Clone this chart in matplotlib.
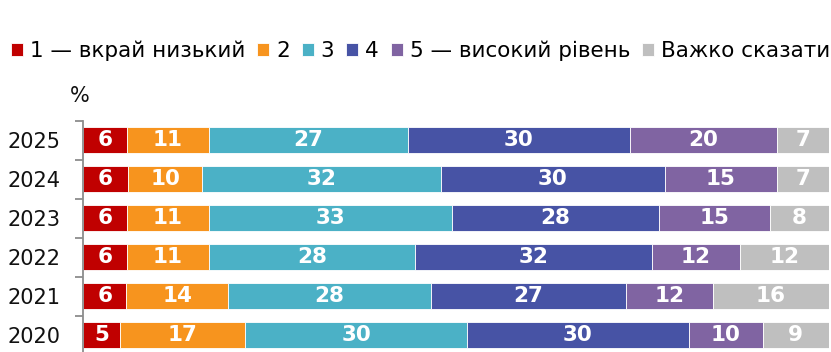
import numpy as np
import matplotlib.pyplot as plt

years = ['2025', '2024', '2023', '2022', '2021', '2020']
level_1 = [6, 6, 6, 6, 6, 5]
level_2 = [11, 10, 11, 11, 14, 17]
level_3 = [27, 32, 33, 28, 28, 30]
level_4 = [30, 30, 28, 32, 27, 30]
level_5 = [20, 15, 15, 12, 12, 10]
hard_to_say = [7, 7, 8, 12, 16, 9]

names = ['1 — вкрай низький', '2', '3', '4', '5 — високий рівень', 'Важко сказати']
colors = ['#C00000', '#F7941E', '#4BB1C6', '#4753A5', '#8064A2', '#BFBFBF']

plt.rcParams['font.family'] = ['DejaVu Sans']

series = np.array([level_1, level_2, level_3, level_4, level_5, hard_to_say], dtype=float)
totals = series.sum(axis=0)
shares = series / totals * 100  # each bar fills 100%

fig = plt.figure(figsize=(8.31, 3.52), dpi=100)
ax = fig.add_axes([83 / 831, -2.5 / 352, (829 - 83) / 831, 234 / 352])

y = np.arange(len(years))[::-1]
left = np.zeros(len(years))
handles = []
for i in range(len(names)):
    bars = ax.barh(y, shares[i], left=left, height=0.67, color=colors[i],
                   edgecolor='white', linewidth=0.6, label=names[i])
    handles.append(bars)
    for j in range(len(years)):
        ax.text(left[j] + shares[i][j] / 2, y[j], '%d' % series[i][j],
                ha='center', va='center', color='white', fontsize=15.5,
                fontweight='bold')
    left += shares[i]

ax.set_xlim(0, 100)
ax.set_ylim(-0.5, len(years) - 0.5)
ax.set_yticks(y)
ax.set_yticklabels(years, fontsize=15, color='#111111')
ax.tick_params(axis='y', which='major', length=0, pad=16)
ax.set_yticks(np.arange(len(years) + 1) - 0.5, minor=True)
ax.tick_params(axis='y', which='minor', length=6, width=1.3, color='#8C8C8C')
ax.set_xticks([])
for side in ['top', 'right', 'bottom']:
    ax.spines[side].set_visible(False)
ax.spines['left'].set_color('#8C8C8C')
ax.spines['left'].set_linewidth(1.3)

fig.text(70 / 831, 1 - 96 / 352, '%', fontsize=15, va='center', ha='left',
         color='#111111')

fig.legend(handles=handles, loc='center left', bbox_to_anchor=(11 / 831, 1 - 51 / 352),
           ncol=6, frameon=False, fontsize=15.5, handlelength=0.56, handleheight=0.56,
           handletextpad=0.32, columnspacing=0.55, borderaxespad=0, borderpad=0)

fig.savefig('out.png', dpi=100)
